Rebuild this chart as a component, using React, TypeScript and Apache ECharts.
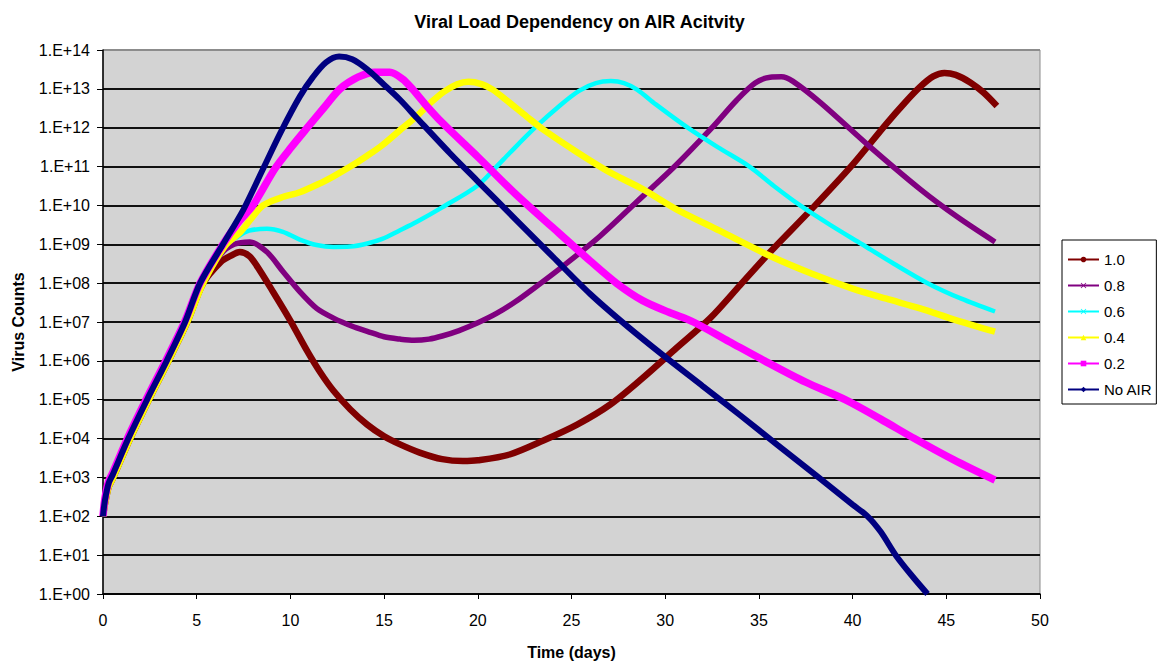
import React, { useEffect, useRef } from "react";
import * as echarts from "echarts";

// Days (x) and log10(virus counts) (y)
const air10Days = [0, 0.1, 0.3, 0.5, 1.45, 2.45, 3.5, 4.5, 5.35, 6.3, 6.8, 7.3, 7.8, 8.2, 9.07, 9.98, 10.9, 11.6, 12.3, 13.2, 14.1, 15.0, 15.85, 16.9, 18.1, 19.2, 20.0, 21.7, 23.5, 25.3, 27.05, 28.8, 30.6, 32.4, 34.0, 35.6, 37.9, 40.0, 41.8, 42.8, 43.6, 44.3, 44.9, 45.5, 46.3, 47.0, 47.7];
const air10Log = [2.0, 2.3, 2.75, 2.95, 4.0, 5.0, 6.0, 7.0, 8.0, 8.55, 8.7, 8.8, 8.7, 8.45, 7.78, 7.05, 6.25, 5.7, 5.23, 4.75, 4.36, 4.06, 3.85, 3.64, 3.47, 3.42, 3.44, 3.59, 3.95, 4.36, 4.87, 5.56, 6.33, 7.1, 7.95, 8.8, 9.95, 11.05, 12.1, 12.65, 13.05, 13.32, 13.41, 13.36, 13.16, 12.9, 12.56];

const air08Days = [0, 0.1, 0.3, 0.5, 1.45, 2.45, 3.5, 4.5, 5.35, 6.3, 7.0, 7.84, 8.75, 9.6, 10.5, 11.4, 12.3, 13.3, 14.1, 15.0, 15.85, 16.6, 17.4, 18.1, 19.0, 20.0, 21.0, 22.0, 23.0, 24.5, 26.5, 28.5, 30.5, 32.5, 33.8, 34.8, 35.6, 36.2, 36.8, 38.3, 40.9, 43.6, 45.6, 47.6];
const air08Log = [2.0, 2.3, 2.75, 2.95, 4.0, 5.0, 6.0, 7.0, 8.0, 8.75, 9.0, 9.06, 8.8, 8.3, 7.78, 7.35, 7.1, 6.89, 6.76, 6.62, 6.56, 6.53, 6.56, 6.64, 6.78, 6.98, 7.22, 7.52, 7.87, 8.42, 9.2, 10.1, 11.0, 12.0, 12.7, 13.15, 13.3, 13.31, 13.2, 12.64, 11.52, 10.42, 9.7, 9.06];

const air06Days = [0, 0.1, 0.3, 0.5, 1.45, 2.45, 3.5, 4.5, 5.35, 6.5, 7.2, 7.8, 8.75, 9.6, 10.5, 11.4, 12.3, 13.2, 14.1, 14.9, 15.8, 16.75, 18.1, 19.96, 21.0, 21.7, 23.05, 24.4, 25.4, 26.3, 27.1, 27.8, 28.5, 29.5, 31.2, 32.8, 34.5, 35.8, 37.2, 38.8, 40.5, 42.2, 44.0, 45.8, 47.6];
const air06Log = [2.0, 2.3, 2.75, 2.95, 4.0, 5.0, 6.0, 7.0, 8.0, 8.95, 9.2, 9.35, 9.4, 9.32, 9.12, 8.98, 8.93, 8.94, 9.02, 9.14, 9.35, 9.58, 9.95, 10.5, 11.0, 11.35, 12.0, 12.58, 12.95, 13.15, 13.2, 13.15, 12.98, 12.6, 12.0, 11.5, 11.0, 10.5, 10.0, 9.5, 9.0, 8.5, 8.0, 7.6, 7.27];

const air04Days = [0, 0.1, 0.3, 0.5, 1.45, 2.45, 3.5, 4.5, 5.35, 6.5, 7.3, 7.84, 8.54, 9.5, 10.5, 11.5, 12.3, 13.2, 14.1, 14.9, 16.0, 16.75, 17.5, 18.2, 18.9, 19.5, 20.2, 20.8, 21.6, 22.6, 23.5, 25.3, 27.05, 28.8, 30.6, 32.9, 35.6, 37.8, 40.0, 41.8, 43.6, 45.5, 47.6];
const air04Log = [2.0, 2.3, 2.75, 2.95, 4.0, 5.0, 6.0, 7.0, 8.0, 8.95, 9.3, 9.62, 10.0, 10.2, 10.34, 10.55, 10.75, 11.0, 11.28, 11.55, 12.0, 12.3, 12.65, 12.93, 13.12, 13.18, 13.12, 12.98, 12.68, 12.29, 11.95, 11.37, 10.85, 10.42, 9.9, 9.35, 8.7, 8.25, 7.86, 7.6, 7.35, 7.05, 6.75];

const air02Days = [0, 0.1, 0.3, 0.5, 1.35, 2.35, 3.4, 4.38, 5.18, 6.4, 7.2, 8.0, 9.18, 10.05, 10.9, 11.8, 12.65, 13.6, 14.5, 15.3, 16.0, 16.5, 17.2, 18.1, 20.0, 22.0, 24.0, 26.0, 27.4, 28.8, 30.2, 31.5, 33.4, 35.3, 37.5, 39.6, 41.5, 43.3, 45.4, 47.6];
const air02Log = [2.0, 2.45, 2.9, 3.1, 4.05, 5.05, 6.05, 7.03, 8.0, 9.0, 9.55, 10.0, 10.95, 11.5, 12.0, 12.52, 13.0, 13.3, 13.43, 13.43, 13.25, 13.0, 12.6, 12.13, 11.25, 10.3, 9.43, 8.57, 8.0, 7.55, 7.25, 7.0, 6.5, 6.0, 5.45, 5.0, 4.5, 4.0, 3.45, 2.93];

const noAirDays = [0, 0.1, 0.3, 0.5, 1.35, 2.35, 3.4, 4.38, 5.18, 6.4, 7.5, 8.5, 9.5, 10.5, 11.2, 11.9, 12.6, 13.3, 14.1, 14.9, 15.85, 16.75, 18.5, 20.0, 22.0, 24.0, 26.0, 28.0, 30.0, 32.0, 34.0, 36.0, 38.0, 40.0, 40.8, 41.5, 42.3, 43.2, 44.0];
const noAirLog = [2.0, 2.4, 2.85, 3.05, 4.0, 5.0, 6.0, 7.0, 8.0, 9.0, 9.9, 10.9, 11.9, 12.8, 13.3, 13.68, 13.83, 13.76, 13.5, 13.15, 12.72, 12.25, 11.35, 10.62, 9.65, 8.68, 7.72, 6.88, 6.1, 5.35, 4.6, 3.83, 3.07, 2.3, 2.0, 1.6, 1.0, 0.45, 0.0];

const seriesNames = ["1.0", "0.8", "0.6", "0.4", "0.2", "No AIR"];
const xTicks = [0, 5, 10, 15, 20, 25, 30, 35, 40, 45, 50];
const yExponents = [0, 1, 2, 3, 4, 5, 6, 7, 8, 9, 10, 11, 12, 13, 14];

const FONT = "'Liberation Sans', Arial, sans-serif";

const pair = (days: number[], logs: number[]) =>
  days.map((d, i) => [d, Math.pow(10, logs[i])]);

export default function App() {
  const ref = useRef<HTMLDivElement>(null);
  useEffect(() => {
    if (!ref.current) return;
    const chart = echarts.init(ref.current, undefined, { renderer: "svg" });
    const xMark = "path://M0 1L1 0L5 4L9 0L10 1L6 5L10 9L9 10L5 6L1 10L0 9L4 5Z";
    const defs = [
      { days: air10Days, logs: air10Log, color: "#800000", width: 6.5, symbol: "circle" },
      { days: air08Days, logs: air08Log, color: "#800080", width: 5.5, symbol: xMark },
      { days: air06Days, logs: air06Log, color: "#00FFFF", width: 4.5, symbol: xMark },
      { days: air04Days, logs: air04Log, color: "#FFFF00", width: 6.5, symbol: "triangle" },
      { days: air02Days, logs: air02Log, color: "#FF00FF", width: 7.5, symbol: "rect" },
      { days: noAirDays, logs: noAirLog, color: "#000080", width: 6, symbol: "diamond" },
    ];
    const splitColors = yExponents.map((e) => (e === 14 ? "#8c8c8c" : "#111111"));
    chart.setOption({
      animation: false,
      backgroundColor: "#ffffff",
      textStyle: { fontFamily: FONT },
      title: {
        text: "Viral Load Dependency on AIR Acitvity",
        left: "center",
        top: 8,
        textStyle: { fontFamily: FONT, fontSize: 18, fontWeight: "bold", color: "#000" },
      },
      legend: {
        orient: "vertical",
        left: 1062,
        top: 240,
        width: 95,
        padding: [12, 4, 7, 5],
        borderColor: "#000",
        borderWidth: 1,
        backgroundColor: "#fff",
        itemWidth: 31,
        itemHeight: 7,
        itemGap: 11,
        data: seriesNames,
        lineStyle: { width: 2 },
        textStyle: { fontFamily: FONT, fontSize: 15, color: "#000" },
      },
      grid: {
        left: 103,
        right: 119,
        top: 50,
        bottom: 68,
        show: true,
        backgroundColor: "#d3d3d3",
        borderColor: "#8c8c8c",
        borderWidth: 1,
      },
      xAxis: {
        type: "value",
        min: 0,
        max: 50,
        interval: 5,
        name: "Time (days)",
        nameLocation: "middle",
        nameGap: 50,
        nameTextStyle: { fontFamily: FONT, fontSize: 16, fontWeight: "bold", color: "#000" },
        axisLine: { lineStyle: { color: "#000", width: 1.5 } },
        axisTick: { show: true, length: 5, lineStyle: { color: "#000" } },
        axisLabel: {
          margin: 18,
          fontFamily: FONT,
          fontSize: 16,
          color: "#000",
          formatter: (v: number) => (xTicks.includes(v) ? String(v) : ""),
        },
        splitLine: { show: false },
      },
      yAxis: {
        type: "log",
        logBase: 10,
        min: 1,
        max: 1e14,
        interval: 1,
        name: "Virus Counts",
        nameLocation: "middle",
        nameGap: 77,
        nameTextStyle: { fontFamily: FONT, fontSize: 16, fontWeight: "bold", color: "#000" },
        axisLine: { show: true, lineStyle: { color: "#000", width: 1.5 } },
        axisTick: { show: true, length: 6, lineStyle: { color: "#000" } },
        axisLabel: {
          margin: 13,
          fontFamily: FONT,
          fontSize: 16,
          color: "#000",
          formatter: (v: number) => {
            const e = Math.round(Math.log10(v));
            return "1.E+" + (e < 10 ? "0" : "") + e;
          },
        },
        splitLine: { show: true, lineStyle: { color: splitColors, width: 2 } },
      },
      series: defs.map((d, i) => ({
        name: seriesNames[i],
        type: "line",
        data: pair(d.days, d.logs),
        smooth: 0.3,
        symbol: d.symbol,
        showSymbol: false,
        color: d.color,
        lineStyle: { color: d.color, width: d.width },
        itemStyle: { color: d.color },
        z: 2 + i,
      })),
    });
    return () => chart.dispose();
  }, []);
  return (
    <div
      ref={ref}
      style={{ position: "fixed", left: 0, top: 0, width: 1159, height: 665 }}
    />
  );
}
